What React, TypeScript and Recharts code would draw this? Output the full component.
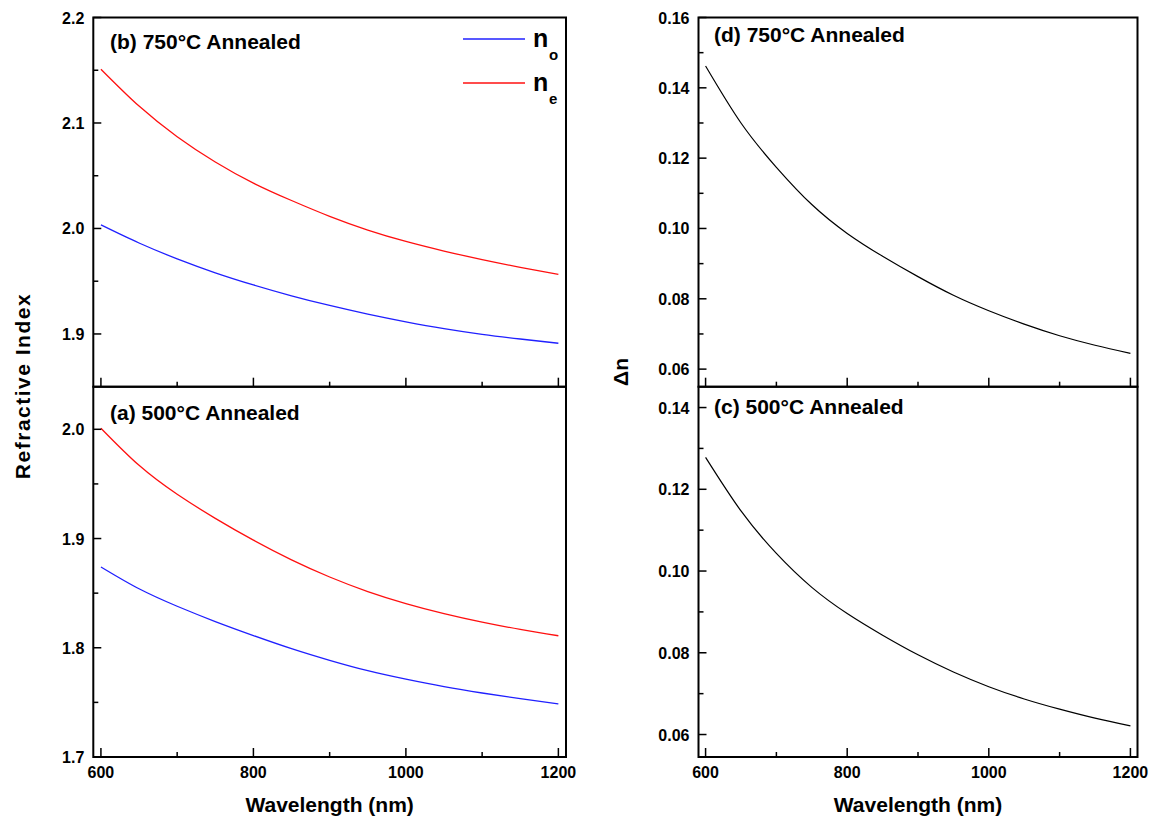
import React from "react";
import { LineChart, Line, XAxis, YAxis, ReferenceArea, Legend } from "recharts";

const FONT = '"Liberation Sans", Arial, sans-serif';

const wavelength = [600, 650, 700, 750, 800, 850, 900, 950, 1000, 1050, 1100, 1150, 1200];

// (b) 750°C annealed
const no750 = [2.0034, 1.9862, 1.9712, 1.958, 1.9465, 1.9362, 1.927, 1.9188, 1.9115, 1.905, 1.8996, 1.8952, 1.8912];
const ne750 = [2.151, 2.116, 2.087, 2.063, 2.043, 2.0265, 2.0115, 1.9985, 1.9877, 1.9786, 1.9705, 1.9632, 1.9564];
// (a) 500°C annealed
const no500 = [1.874, 1.854, 1.838, 1.824, 1.8112, 1.7992, 1.7885, 1.779, 1.7712, 1.7644, 1.7586, 1.7534, 1.7486];
const ne500 = [2.001, 1.967, 1.9405, 1.9185, 1.8985, 1.8805, 1.8648, 1.8515, 1.8405, 1.8313, 1.8235, 1.8168, 1.811];
// (d) / (c) birefringence
const dn750 = [0.1462, 0.13, 0.1174, 0.1068, 0.0986, 0.0921, 0.0863, 0.081, 0.0766, 0.0728, 0.0695, 0.0668, 0.0645];
const dn500 = [0.1278, 0.1147, 0.1043, 0.096, 0.0896, 0.0843, 0.0795, 0.0753, 0.0717, 0.0687, 0.0662, 0.064, 0.0621];

const xTicks = [600, 700, 800, 900, 1000, 1100, 1200];
const yTicksB = [1.9, 1.95, 2.0, 2.05, 2.1, 2.15, 2.2];
const yTicksA = [1.7, 1.75, 1.8, 1.85, 1.9, 1.95, 2.0];
const yTicksD = [0.06, 0.07, 0.08, 0.09, 0.1, 0.11, 0.12, 0.13, 0.14, 0.15, 0.16];
const yTicksC = [0.06, 0.07, 0.08, 0.09, 0.1, 0.11, 0.12, 0.13, 0.14];

const X_DOMAIN = [590, 1210];

const rows750 = wavelength.map((w, i) => ({ w, no: no750[i], ne: ne750[i], dn: dn750[i] }));
const rows500 = wavelength.map((w, i) => ({ w, no: no500[i], ne: ne500[i], dn: dn500[i] }));

const makeXTick = (showLabel: boolean) => (props: any) => {
  const { x, y, payload } = props;
  const v = payload.value;
  const major = v % 200 === 0;
  return (
    <g>
      <line x1={x} x2={x} y1={y} y2={y - (major ? 9 : 5)} stroke="#000" strokeWidth={1.5} />
      {showLabel && major && (
        <text x={x} y={y + 21} textAnchor="middle" fontFamily={FONT} fontWeight="bold" fontSize={16} fill="#000">
          {v}
        </text>
      )}
    </g>
  );
};

const makeYTick = (step: number, digits: number) => (props: any) => {
  const { x, y, payload } = props;
  const v = payload.value;
  const major = Math.round(v / step) % 2 === 0;
  return (
    <g>
      <line x1={x} x2={x + (major ? 8 : 5)} y1={y} y2={y} stroke="#000" strokeWidth={1.5} />
      {major && (
        <text x={x - 9} y={y + 6} textAnchor="end" fontFamily={FONT} fontWeight="bold" fontSize={16} fill="#000">
          {v.toFixed(digits)}
        </text>
      )}
    </g>
  );
};

const legendOrder = ["no", "ne"];
const renderLegend = (props: any) => {
  const items = [...(props.payload || [])].sort(
    (a: any, b: any) => legendOrder.indexOf(a.dataKey) - legendOrder.indexOf(b.dataKey)
  );
  return (
    <svg width={130} height={95}>
      {items.map((e: any, i: number) => {
        const y = 14 + i * 44;
        return (
          <g key={e.dataKey}>
            <line x1={0} x2={62} y1={y} y2={y} stroke={e.color} strokeWidth={1.3} />
            <text x={70} y={y + 8} fontFamily={FONT} fontWeight="bold" fontSize={25} fill="#000">n</text>
            <text x={86} y={y + 21} fontFamily={FONT} fontWeight="bold" fontSize={15} fill="#000">{e.value}</text>
          </g>
        );
      })}
    </svg>
  );
};

const W = 1152;
const H = 823;
const TOP = 17.5;
const MID = 386.7;
const BOTTOM = 757;
const LEFT_L = 93.3;
const RIGHT_L = 566;
const LEFT_R = 698.5;
const RIGHT_R = 1137.5;
const AXIS_W = 60;
const AXIS_H = 40;

const layer: React.CSSProperties = { position: "absolute", left: 0, top: 0 };

function Panel({ data, left, right, top, bottom, yDomain, yTicks, step, digits, showXLabels, children }: any) {
  return (
    <div style={layer}>
      <LineChart
        width={W}
        height={H}
        data={data}
        margin={{ top, left: left - AXIS_W, right: W - right, bottom: H - bottom - AXIS_H }}
      >
        <XAxis
          dataKey="w"
          type="number"
          domain={X_DOMAIN}
          ticks={xTicks}
          interval={0}
          height={AXIS_H}
          tickSize={0}
          tickMargin={0}
          axisLine={false}
          tickLine={false}
          tick={makeXTick(showXLabels)}
          allowDataOverflow
        />
        <YAxis
          type="number"
          domain={yDomain}
          ticks={yTicks}
          interval={0}
          width={AXIS_W}
          tickSize={0}
          tickMargin={0}
          axisLine={false}
          tickLine={false}
          tick={makeYTick(step, digits)}
          allowDataOverflow
        />
        <ReferenceArea
          x1={X_DOMAIN[0]}
          x2={X_DOMAIN[1]}
          y1={yDomain[0]}
          y2={yDomain[1]}
          fill="none"
          stroke="#000"
          strokeWidth={2}
          ifOverflow="visible"
        />
        {children}
      </LineChart>
    </div>
  );
}

export default function App() {
  const annot = { fontFamily: FONT, fontWeight: "bold" as const, fontSize: 21, fill: "#000" };
  return (
    <div style={{ position: "absolute", left: 0, top: 0, width: W, height: H, background: "#fff" }}>
      {/* (b) 750°C refractive index */}
      <Panel data={rows750} left={LEFT_L} right={RIGHT_L} top={TOP} bottom={MID}
        yDomain={[1.85, 2.2]} yTicks={yTicksB} step={0.05} digits={1} showXLabels={false}>
        <Line dataKey="no" name="o" type="natural" stroke="#2020ff" strokeWidth={1.3} dot={false} isAnimationActive={false} />
        <Line dataKey="ne" name="e" type="natural" stroke="#ff1010" strokeWidth={1.3} dot={false} isAnimationActive={false} />
        <Legend
          layout="vertical"
          align="center"
          verticalAlign="middle"
          content={renderLegend}
          wrapperStyle={{ left: 463, top: 25, width: 130, height: 95 }}
        />
      </Panel>
      {/* (a) 500°C refractive index */}
      <Panel data={rows500} left={LEFT_L} right={RIGHT_L} top={MID} bottom={BOTTOM}
        yDomain={[1.7, 2.039]} yTicks={yTicksA} step={0.05} digits={1} showXLabels={true}>
        <Line dataKey="no" type="natural" stroke="#2020ff" strokeWidth={1.3} dot={false} isAnimationActive={false} />
        <Line dataKey="ne" type="natural" stroke="#ff1010" strokeWidth={1.3} dot={false} isAnimationActive={false} />
      </Panel>
      {/* (d) 750°C birefringence */}
      <Panel data={rows750} left={LEFT_R} right={RIGHT_R} top={TOP} bottom={MID}
        yDomain={[0.055, 0.16]} yTicks={yTicksD} step={0.01} digits={2} showXLabels={false}>
        <Line dataKey="dn" type="natural" stroke="#000" strokeWidth={1.2} dot={false} isAnimationActive={false} />
      </Panel>
      {/* (c) 500°C birefringence */}
      <Panel data={rows500} left={LEFT_R} right={RIGHT_R} top={MID} bottom={BOTTOM}
        yDomain={[0.0545, 0.1451]} yTicks={yTicksC} step={0.01} digits={2} showXLabels={true}>
        <Line dataKey="dn" type="natural" stroke="#000" strokeWidth={1.2} dot={false} isAnimationActive={false} />
      </Panel>

      <svg width={W} height={H} style={{ ...layer, pointerEvents: "none" }}>
        <text x={110} y={49} {...annot}>(b) 750°C Annealed</text>
        <text x={110} y={420} {...annot}>(a) 500°C Annealed</text>
        <text x={714} y={42} {...annot}>(d) 750°C Annealed</text>
        <text x={714} y={414} {...annot}>(c) 500°C Annealed</text>
        <text x={(LEFT_L + RIGHT_L) / 2} y={812} textAnchor="middle" {...annot}>Wavelength (nm)</text>
        <text x={(LEFT_R + RIGHT_R) / 2} y={812} textAnchor="middle" {...annot}>Wavelength (nm)</text>
        <text transform="translate(30,386) rotate(-90)" textAnchor="middle" letterSpacing={1.5} {...annot}>Refractive Index</text>
        <text transform="translate(628,372) rotate(-90)" textAnchor="middle" {...annot}>Δn</text>
      </svg>
    </div>
  );
}
